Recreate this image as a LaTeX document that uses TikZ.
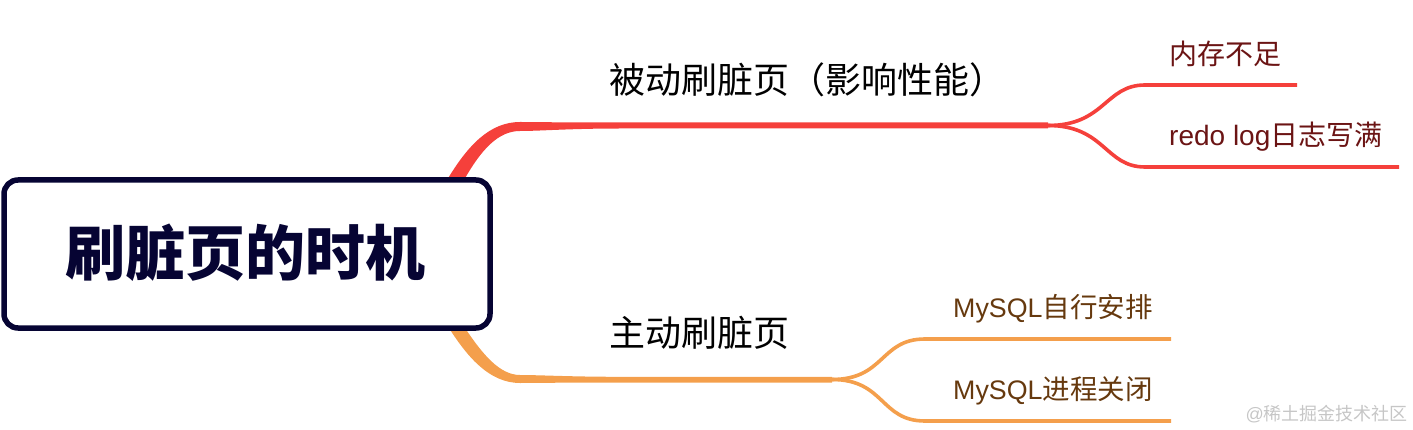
\documentclass[tikz,border=0pt]{standalone}
\usepackage{fontspec}
\setmainfont{Liberation Sans}
\newfontfamily\cjk{Noto Sans CJK SC}
\newfontfamily\cjkb{Noto Sans CJK SC Black}[BoldFont={Noto Sans CJK SC Black}]
\definecolor{rootc}{HTML}{060433}
\definecolor{redb}{HTML}{F5403B}
\definecolor{orab}{HTML}{F49F4C}
\definecolor{redt}{HTML}{6B1414}
\definecolor{orat}{HTML}{66390E}
\definecolor{wm}{HTML}{C6C6C6}
\newcommand{\latsmall}{\fontsize{26.8}{28}\selectfont}
\newcommand{\cjksub}{\cjk\fontsize{27.5}{28}\selectfont}
\tikzset{
  rootbox/.style={draw=rootc,line width=5.5pt,rounded corners=14pt,fill=white,minimum width=486pt,minimum height=148pt,inner sep=0pt,text=rootc},
  mainlabel/.style={anchor=west,inner sep=0pt,text=black,font=\fontsize{36}{36}\selectfont},
  subred/.style={anchor=west,inner sep=0pt,text=redt,font=\fontsize{28}{28}\selectfont},
  subora/.style={anchor=west,inner sep=0pt,text=orat,font=\fontsize{28}{28}\selectfont},
  twig/.style={line width=3.6pt,line cap=butt},
}
\begin{document}
\begin{tikzpicture}[x=1pt,y=-1pt]
\useasboundingbox (0,0) rectangle (1413,430);
% tapered trunks
\coordinate (rA) at (1048,125.5);
\coordinate (oA) at (832,379.5);
\fill[redb] (447,180) .. controls (468,145) and (490,122) .. (520,122)
  .. controls (540,122) and (550,122.5) .. (620,122.5) -- (rA |- 0,122.5) -- (rA |- 0,128.5) -- (620,128.5)
  .. controls (570,128.5) and (540,131) .. (520,131)
  .. controls (498,131) and (481,150) .. (464,180) -- cycle;
\fill[orab] (449,328) .. controls (468,358) and (490,383) .. (520,383)
  .. controls (540,383) and (560,382.5) .. (620,382.5) -- (oA |- 0,382.5) -- (oA |- 0,376.8) -- (620,376.8)
  .. controls (570,376.8) and (540,375) .. (520,375)
  .. controls (500,375) and (483,355) .. (465,328) -- cycle;
% root
\node[rootbox] (root) at (247,254) {};
\node[inner sep=0pt,text=rootc] (title) at (245,253) {\cjkb\fontsize{60}{60}\selectfont 刷脏页的时机};
% red twigs
\coordinate (r1m) at (1145,85);
\coordinate (r1e) at (1297,85);
\coordinate (r2m) at (1145,167);
\coordinate (r2e) at (1399,167);
\draw[twig,redb] (rA) .. controls (1105,125.5) and (1105,85) .. (r1m) -- (r1e);
\draw[twig,redb] (rA) .. controls (1105,125.5) and (1105,167) .. (r2m) -- (r2e);
% orange twigs
\coordinate (o1m) at (925,339);
\coordinate (o1e) at (1171,339);
\coordinate (o2m) at (925,421);
\coordinate (o2e) at (1171,421);
\draw[twig,orab] (oA) .. controls (885,379.5) and (880,339) .. (o1m) -- (o1e);
\draw[twig,orab] (oA) .. controls (885,379.5) and (880,421) .. (o2m) -- (o2e);
% labels
\node[mainlabel] (l1) at (609,80) {\cjk 被动刷脏页（影响性能）};
\node[mainlabel] (l2) at (609,333) {\cjk 主动刷脏页};
\node[subred] (s1) at (1169,54) {\cjk 内存不足};
\node[subred] (s2) at (1169,137) {redo log\cjk 日志写满};
\node[subora] (s3) at (953,308.5) {\latsmall MySQL\cjksub 自行安排};
\node[subora] (s4) at (953,390.5) {\latsmall MySQL\cjksub 进程关闭};
\node[anchor=east,inner sep=0pt,text=wm,font=\fontsize{18}{20}\selectfont] (wmk) at (1408,414) {@\cjk 稀土掘金技术社区};
\end{tikzpicture}
\end{document}
